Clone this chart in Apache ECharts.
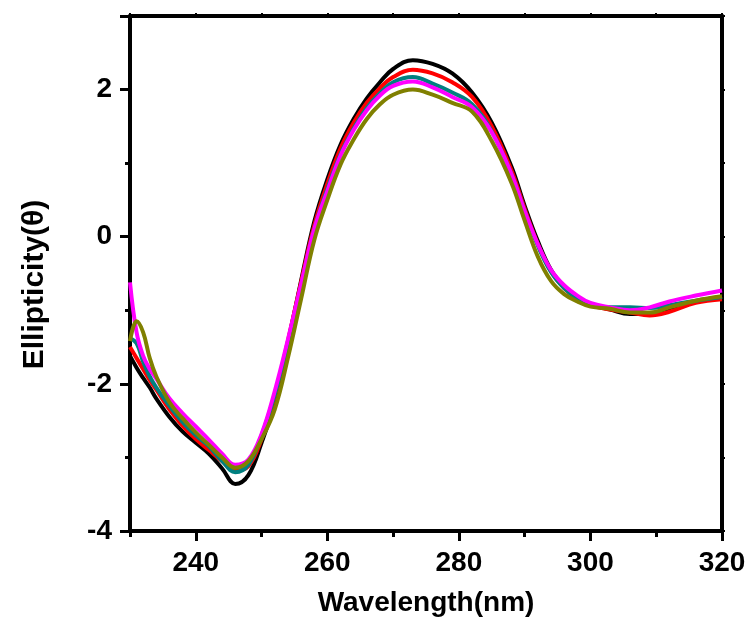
<!DOCTYPE html>
<html>
<head>
<meta charset="utf-8">
<script src="https://cdn.jsdelivr.net/npm/echarts@6/dist/echarts.min.js"></script>
<style>
  html, body { margin: 0; padding: 0; background: #fff; }
  #chart { width: 753px; height: 630px; }
</style>
</head>
<body>
<div id="chart"></div>
<script>
// wavelength samples (nm)
const wavelength = [230, 231, 232, 233, 234, 236, 238, 240, 242, 244, 246, 248, 250, 252, 254, 256, 258, 260, 262, 264, 266, 268, 270, 273, 276, 279, 282, 285, 288, 290, 292, 294, 296, 298, 300, 303, 306, 309, 312, 316, 320];

// ellipticity readings, one list per trace
const blackVals   = [-1.62, -1.78, -1.92, -2.05, -2.2, -2.45, -2.65, -2.8, -2.95, -3.15, -3.36, -3.24, -2.8, -2.25, -1.45, -0.6, 0.2, 0.78, 1.25, 1.6, 1.88, 2.1, 2.28, 2.4, 2.35, 2.22, 1.96, 1.55, 0.95, 0.42, -0.06, -0.45, -0.68, -0.82, -0.92, -0.99, -1.05, -1.05, -0.98, -0.88, -0.82];
const redVals     = [-1.5, -1.65, -1.8, -1.95, -2.08, -2.35, -2.57, -2.75, -2.9, -3.05, -3.18, -3.12, -2.75, -2.18, -1.42, -0.62, 0.15, 0.72, 1.2, 1.55, 1.82, 2.02, 2.17, 2.27, 2.22, 2.1, 1.9, 1.5, 0.9, 0.38, -0.1, -0.47, -0.7, -0.84, -0.93, -0.99, -1.03, -1.07, -1.02, -0.9, -0.85];
const tealVals    = [-1.38, -1.45, -1.7, -1.9, -2.05, -2.3, -2.52, -2.7, -2.85, -3.05, -3.2, -3.1, -2.7, -2.15, -1.45, -0.68, 0.1, 0.65, 1.12, 1.47, 1.75, 1.95, 2.1, 2.17, 2.08, 1.96, 1.8, 1.43, 0.85, 0.35, -0.12, -0.48, -0.7, -0.84, -0.92, -0.96, -0.96, -0.97, -0.93, -0.87, -0.82];
const magentaVals = [-0.62, -1.3, -1.62, -1.8, -1.93, -2.2, -2.4, -2.58, -2.76, -2.95, -3.1, -3.03, -2.68, -2.1, -1.4, -0.65, 0.1, 0.62, 1.1, 1.45, 1.72, 1.92, 2.05, 2.11, 2.03, 1.9, 1.76, 1.42, 0.85, 0.35, -0.1, -0.45, -0.66, -0.8, -0.9, -0.96, -1.0, -0.96, -0.88, -0.8, -0.73];
const oliveVals   = [-1.42, -1.15, -1.3, -1.65, -1.9, -2.25, -2.47, -2.66, -2.83, -3.0, -3.14, -3.05, -2.75, -2.35, -1.65, -0.85, -0.05, 0.5, 0.98, 1.32, 1.6, 1.8, 1.93, 2.0, 1.93, 1.82, 1.7, 1.3, 0.73, 0.22, -0.27, -0.6, -0.78, -0.88, -0.95, -0.98, -1.03, -1.03, -0.96, -0.87, -0.81];

// tick positions on the wavelength axis
const xMajorTicks = [240, 260, 280, 300, 320];
const xMinorTicks = [230, 250, 270, 290, 310];

const traces = [
  { vals: blackVals, color: '#000000' },
  { vals: redVals, color: '#ff0000' },
  { vals: tealVals, color: '#008080' },
  { vals: magentaVals, color: '#ff00ff' },
  { vals: oliveVals, color: '#808000' }
];

const font = 'Liberation Sans, Arial, sans-serif';
const axisLine = { show: true, onZero: false, lineStyle: { color: '#000', width: 4 } };

const seriesList = traces.map(function (t) {
  return {
    type: 'line',
    smooth: 0.4,
    showSymbol: false,
    silent: true,
    data: wavelength.map(function (w, i) { return [w, t.vals[i]]; }),
    lineStyle: { color: t.color, width: 4 }
  };
});

const chart = echarts.init(document.getElementById('chart'));
chart.setOption({
  animation: false,
  grid: { left: 130, right: 31, top: 16, bottom: 99 },
  xAxis: [
    {
      type: 'value', min: 230, max: 320, interval: 10, position: 'bottom',
      name: 'Wavelength(nm)', nameLocation: 'middle', nameGap: 58,
      nameTextStyle: { fontFamily: font, fontWeight: 'bold', fontSize: 28, color: '#000' },
      axisLine: axisLine,
      axisTick: { show: true, length: 10, customValues: xMajorTicks, lineStyle: { width: 3, color: '#000' } },
      axisLabel: { margin: 18, fontFamily: font, fontWeight: 'bold', fontSize: 28, color: '#000',
        customValues: xMajorTicks },
      splitLine: { show: false }
    },
    {
      type: 'value', min: 230, max: 320, interval: 10, position: 'bottom',
      axisLine: { show: false, onZero: false },
      axisTick: { show: true, length: 6, customValues: xMinorTicks, lineStyle: { width: 3, color: '#000' } },
      axisLabel: { show: false },
      splitLine: { show: false }
    },
    {
      type: 'value', min: 230, max: 320, interval: 10, position: 'top',
      axisLine: axisLine,
      axisTick: { show: true, length: 3, lineStyle: { width: 2, color: '#000' } },
      axisLabel: { show: false },
      splitLine: { show: false }
    }
  ],
  yAxis: [
    {
      type: 'value', min: -4, max: 3, interval: 2, position: 'left',
      name: 'Ellipticity(\u03b8)', nameLocation: 'middle', nameGap: 80,
      nameTextStyle: { fontFamily: font, fontWeight: 'bold', fontSize: 30, color: '#000',
        padding: [0, 22, 0, 0] },
      axisLine: axisLine,
      axisTick: { show: true, length: 10, lineStyle: { width: 3, color: '#000' } },
      minorTick: { show: true, splitNumber: 2, length: 5, lineStyle: { width: 3, color: '#000' } },
      axisLabel: { margin: 18, fontFamily: font, fontWeight: 'bold', fontSize: 28, color: '#000',
        showMaxLabel: false },
      splitLine: { show: false }
    },
    {
      type: 'value', min: -4, max: 3, interval: 1, position: 'right',
      axisLine: axisLine,
      axisTick: { show: true, length: 3, lineStyle: { width: 2, color: '#000' } },
      axisLabel: { show: false },
      splitLine: { show: false }
    }
  ],
  series: seriesList
});
</script>
</body>
</html>
